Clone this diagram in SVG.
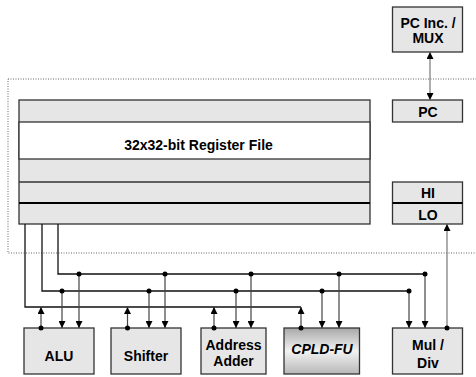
<svg xmlns="http://www.w3.org/2000/svg" width="476" height="377" viewBox="0 0 476 377">
<style>
.box{fill:#e6e6e6;stroke:#333;stroke-width:1.3}
.t{font-family:"Liberation Sans",Arial,sans-serif;font-weight:bold;font-size:14px;fill:#000;text-anchor:middle}
.bus{fill:none;stroke:#111;stroke-width:1.3}
.arr{fill:none;stroke:#444;stroke-width:1.2}
.g{fill:none;stroke:#777;stroke-width:1.2}
</style>
<defs>
<marker id="ah" viewBox="0 0 8 8" refX="8" refY="4" markerWidth="7" markerHeight="7" orient="auto-start-reverse" markerUnits="userSpaceOnUse"><path d="M0,0 L8,4 L0,8 z" fill="#000"/></marker>
<linearGradient id="cg" x1="0" y1="0" x2="0" y2="1">
<stop offset="0" stop-color="#a8a8a8"/>
<stop offset="0.5" stop-color="#f2f2f2"/>
<stop offset="1" stop-color="#b8b8b8"/>
</linearGradient>
</defs>
<rect x="8" y="79" width="480" height="174" fill="none" stroke="#666" stroke-width="1" stroke-dasharray="1,1.5"/>

<g id="regfile">
<rect x="19" y="100" width="351" height="124" class="box"/>
<rect x="19" y="122" width="351" height="37" fill="#fff" stroke="#333" stroke-width="1.3"/>
<line x1="19" y1="182" x2="370" y2="182" stroke="#333" stroke-width="1.3"/>
<line x1="19" y1="203" x2="370" y2="203" stroke="#000" stroke-width="2"/>
<text x="198.5" y="150" class="t">32x32-bit Register File</text>
</g>
<g id="pcinc">
<rect x="392.5" y="7" width="70" height="45" class="box"/>
<text x="428" y="28" class="t">PC Inc. /</text>
<text x="428" y="43" class="t">MUX</text>
</g>
<g id="pc">
<rect x="392.5" y="100" width="70" height="22" class="box"/>
<text x="428" y="116.5" class="t">PC</text>
</g>
<g id="hilo">
<rect x="392.5" y="182" width="70" height="42" class="box"/>
<line x1="392.5" y1="203" x2="462.5" y2="203" stroke="#000" stroke-width="2"/>
<text x="428" y="198" class="t">HI</text>
<text x="428" y="219.5" class="t">LO</text>
</g>
<g id="alu">
<rect x="24" y="328" width="70" height="46" class="box"/>
<text x="59" y="361" class="t">ALU</text>
</g>
<g id="shifter">
<rect x="111" y="328" width="70" height="46" class="box"/>
<text x="146" y="361" class="t">Shifter</text>
</g>
<g id="adder">
<rect x="201" y="328" width="65" height="46" class="box"/>
<text x="233.5" y="350" class="t">Address</text>
<text x="233.5" y="366" class="t">Adder</text>
</g>
<g id="cpld">
<rect x="284" y="328" width="75.5" height="46" fill="url(#cg)" stroke="#333" stroke-width="1.3"/>
<text x="322" y="354" class="t" font-style="italic">CPLD-FU</text>
</g>
<g id="muldiv">
<rect x="392.5" y="328" width="70" height="46" class="box"/>
<text x="428" y="350" class="t">Mul /</text>
<text x="428" y="368" class="t">Div</text>
</g>

<g id="connectors">
<path d="M58,224 V274 H425" class="bus"/>
<path d="M42,224 V291 H409" class="bus"/>
<path d="M25,224 V307 H301" class="bus"/>
<g class="arr" marker-end="url(#ah)">
<line x1="79" y1="274" x2="79" y2="328"/>
<line x1="165" y1="274" x2="165" y2="328"/>
<line x1="251" y1="274" x2="251" y2="328"/>
<line x1="339" y1="274" x2="339" y2="328"/>
<line x1="425" y1="274" x2="425" y2="328"/>
<line x1="62" y1="291" x2="62" y2="328"/>
<line x1="149" y1="291" x2="149" y2="328"/>
<line x1="236" y1="291" x2="236" y2="328"/>
<line x1="322" y1="291" x2="322" y2="328"/>
<line x1="409" y1="291" x2="409" y2="328"/>
<line x1="41" y1="328" x2="41" y2="307"/>
<line x1="127.5" y1="328" x2="127.5" y2="307"/>
<line x1="214" y1="328" x2="214" y2="307"/>
<line x1="301" y1="328" x2="301" y2="307"/>
</g>
<line x1="447" y1="328" x2="447" y2="224" class="g" marker-end="url(#ah)"/>
<line x1="430" y1="52" x2="430" y2="100" class="g" marker-start="url(#ah)" marker-end="url(#ah)"/>
<g fill="#000">
<circle cx="79" cy="274" r="2.5"/><circle cx="165" cy="274" r="2.5"/><circle cx="251" cy="274" r="2.5"/><circle cx="339" cy="274" r="2.5"/><circle cx="425" cy="274" r="2.5"/>
<circle cx="62" cy="291" r="2.5"/><circle cx="149" cy="291" r="2.5"/><circle cx="236" cy="291" r="2.5"/><circle cx="322" cy="291" r="2.5"/><circle cx="409" cy="291" r="2.5"/>
<circle cx="41" cy="328" r="2.5"/><circle cx="127.5" cy="328" r="2.5"/><circle cx="214" cy="328" r="2.5"/><circle cx="301" cy="328" r="2.5"/><circle cx="447" cy="328" r="2.5"/>
</g>
</g>
</svg>
